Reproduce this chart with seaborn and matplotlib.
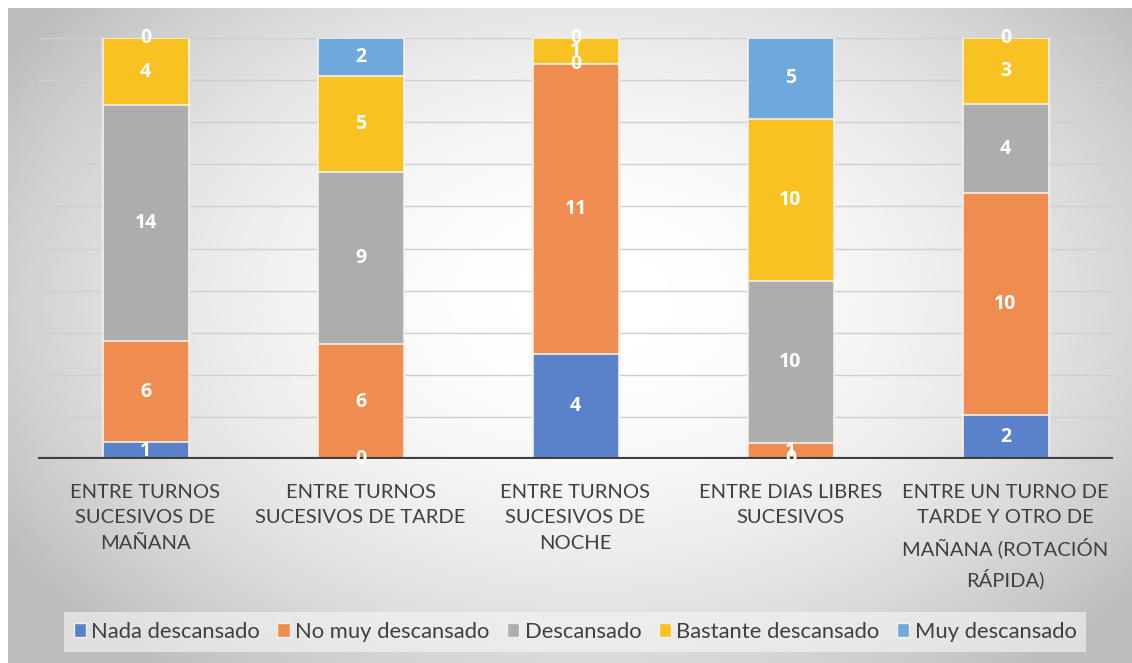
import numpy as np
import pandas as pd
import matplotlib
matplotlib.use("Agg")
import matplotlib.pyplot as plt
import seaborn as sns

# Rest perception between consecutive shifts (counts per answer)
categories = [
    "ENTRE TURNOS\nSUCESIVOS DE\nMAÑANA",
    "ENTRE TURNOS\nSUCESIVOS DE TARDE",
    "ENTRE TURNOS\nSUCESIVOS DE\nNOCHE",
    "ENTRE DIAS LIBRES\nSUCESIVOS",
    "ENTRE UN TURNO DE\nTARDE Y OTRO DE\nMAÑANA (ROTACIÓN\nRÁPIDA)",
]
series_names = ["Nada descansado", "No muy descansado", "Descansado",
                "Bastante descansado", "Muy descansado"]
nada = [1, 0, 4, 0, 2]
no_muy = [6, 6, 11, 1, 10]
descansado = [14, 9, 0, 10, 4]
bastante = [4, 5, 1, 10, 3]
muy = [0, 2, 0, 5, 0]

colors = ["#5A82CA", "#EE8D4F", "#ADADAD", "#F9C223", "#6FA8DC"]

counts = np.array([nada, no_muy, descansado, bastante, muy], dtype=float)
totals = counts.sum(axis=0)
pct = counts / totals * 100.0
cum = np.cumsum(pct, axis=0)

sns.set_theme(style="white")
plt.rcParams["font.family"] = ["Lato", "DejaVu Sans"]

fig = plt.figure(figsize=(11.32, 6.63), dpi=100)
fig.patch.set_facecolor("white")

# soft gray radial background of the chart area
bg = fig.add_axes([8 / 1132, 0, 1 - 8 / 1132, (663 - 8) / 663])
yy, xx = np.mgrid[0:1:300j, 0:1:500j]
r2 = ((xx - 0.52) / 0.72) ** 2 + ((yy - 0.45) / 0.85) ** 2
shade = np.clip(1.0 - 0.36 * r2, 0.74, 1.0)
bg.imshow(shade, cmap="gray", vmin=0, vmax=1, aspect="auto",
          extent=[0, 1, 0, 1], interpolation="bicubic")
bg.set_axis_off()

ax = fig.add_axes([38 / 1132, 204 / 663, 1075 / 1132, 421 / 663])
ax.patch.set_alpha(0)

df = pd.DataFrame({"cat": categories})
# draw cumulative layers from the top series down so each layer covers the next
for i in range(len(series_names) - 1, -1, -1):
    df["h"] = cum[i]
    sns.barplot(data=df, x="cat", y="h", color=colors[i], width=0.4,
                saturation=1, edgecolor="#f6f0e6", linewidth=1.2,
                ax=ax, zorder=2)

ax.set_ylim(0, 100)
ax.set_xlim(-0.5, len(categories) - 0.5)
ax.set_yticks(np.arange(0, 101, 10))
ax.set_yticklabels([])
ax.yaxis.grid(True, color="#cfcfcf", linewidth=1)
ax.set_axisbelow(True)
ax.tick_params(axis="y", length=0)
ax.tick_params(axis="x", length=0, pad=18)
for s in ax.spines.values():
    s.set_visible(False)
ax.axhline(0, color="#404040", linewidth=3, zorder=3)
ax.set_xlabel("")
ax.set_ylabel("")
ax.set_xticks(range(len(categories)))
ax.set_xticklabels(categories, fontsize=14.5, color="#404040", linespacing=1.6,
                   va="top")

# value labels centred in each segment
for i in range(len(series_names)):
    for j in range(len(categories)):
        center = cum[i][j] - pct[i][j] / 2
        ax.text(j, center, f"{int(counts[i][j])}", ha="center", va="center",
                color="white", fontsize=14, fontweight="bold",
                family=["Open Sans", "DejaVu Sans"], zorder=5)

handles = [plt.Rectangle((0, 0), 1, 1, facecolor=c, edgecolor="#f6f0e6")
           for c in colors]
leg = fig.legend(handles, series_names, loc="center", ncol=5,
                 bbox_to_anchor=(0.508, 0.047), fontsize=15.8,
                 handlelength=0.55, handleheight=0.55, handletextpad=0.25,
                 columnspacing=0.8, frameon=True, fancybox=False,
                 borderpad=0.45)
leg.get_frame().set_facecolor("#f6f6f6")
leg.get_frame().set_alpha(0.6)
leg.get_frame().set_edgecolor("none")
for t in leg.get_texts():
    t.set_color("#404040")

fig.savefig("out.png", dpi=100)
